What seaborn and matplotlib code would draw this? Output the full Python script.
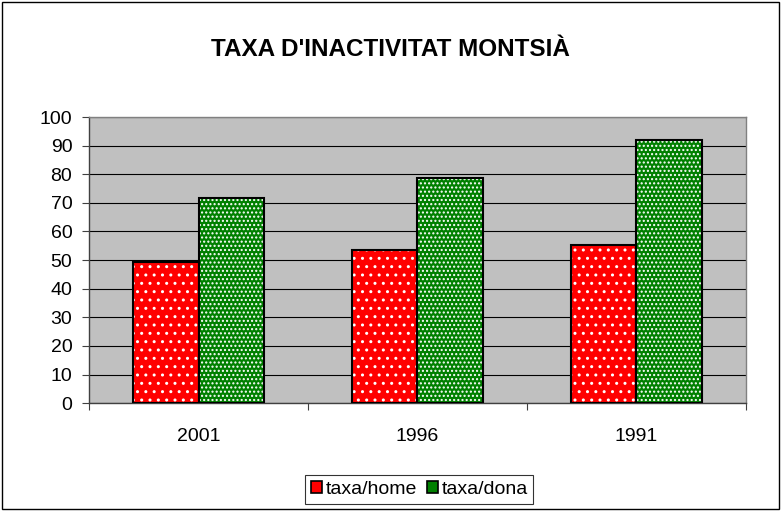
import numpy as np
import pandas as pd
import seaborn as sns
import matplotlib.pyplot as plt
from matplotlib.patches import Rectangle
from matplotlib.ticker import FixedLocator

years = ['2001', '1996', '1991']
taxa_home = [49.3, 53.5, 55.2]
taxa_dona = [71.7, 78.7, 92.0]
series = ['taxa/home', 'taxa/dona']
colors = ['#FF0000', '#008000']
hatches = ['..', '....']

df = pd.DataFrame({
    'any': years * 2,
    'taxa': taxa_home + taxa_dona,
    'serie': [series[0]] * 3 + [series[1]] * 3,
})

sns.set_theme(style='white')
plt.rcParams['font.family'] = ['Liberation Sans', 'DejaVu Sans']
plt.rcParams['text.color'] = 'black'
plt.rcParams['xtick.color'] = 'black'
plt.rcParams['ytick.color'] = 'black'

fig = plt.figure(figsize=(7.81, 5.11), dpi=100)
ax = fig.add_axes([0.114, 0.211, 0.841, 0.560])
ax.set_facecolor('#C0C0C0')

sns.barplot(data=df, x='any', y='taxa', hue='serie', palette=colors,
            width=0.6, gap=0, ax=ax, legend=False, saturation=1)

# dotted fill: white hatch dots, then black outline on top
for i, p in enumerate(list(ax.patches)):
    p.set_hatch(hatches[i // len(years)])
    p.set_edgecolor('#FFFFFF')
    p.set_linewidth(0)
    p.set_zorder(2)
    ax.add_patch(Rectangle(p.get_xy(), p.get_width(), p.get_height(),
                           fill=False, edgecolor='black', linewidth=1.5, zorder=3))

ax.set_ylim(0, 100)
ax.set_xlim(-0.5, 2.5)
ax.set_yticks(np.arange(0, 101, 10))
ax.yaxis.grid(True, color='black', linewidth=0.8)
ax.set_axisbelow(True)
ax.set_xlabel('')
ax.set_ylabel('')
ax.tick_params(axis='y', left=True, length=5, width=0.8, color='#404040', labelsize=14, pad=7)
ax.tick_params(axis='x', bottom=False, labelsize=14, pad=12)
ax.xaxis.set_minor_locator(FixedLocator([-0.5, 0.5, 1.5, 2.5]))
ax.tick_params(axis='x', which='minor', bottom=True, length=5, width=0.8, color='#404040')
for s in ax.spines.values():
    s.set_color('#808080')
    s.set_linewidth(1)
ax.spines['left'].set_color('#404040')
ax.spines['bottom'].set_color('#404040')

fig.text(0.5, 0.904, "TAXA D'INACTIVITAT MONTSIÀ", ha='center', va='center',
         fontsize=17.5, fontweight='bold')

handles = [Rectangle((0, 0), 1, 1, facecolor=c, edgecolor='black', linewidth=1.2) for c in colors]
leg = fig.legend(handles, series, loc='center', bbox_to_anchor=(0.537, 0.042), ncol=2,
                 frameon=True, fontsize=14, handlelength=0.55, handleheight=0.55,
                 handletextpad=0.2, columnspacing=0.5, borderpad=0.3, fancybox=False)
leg.get_frame().set_edgecolor('black')
leg.get_frame().set_linewidth(0.8)

fig.patches.append(Rectangle((0.003, 0.003), 0.994, 0.994, transform=fig.transFigure,
                             fill=False, edgecolor='black', linewidth=1))

fig.savefig('out.png', dpi=100)
